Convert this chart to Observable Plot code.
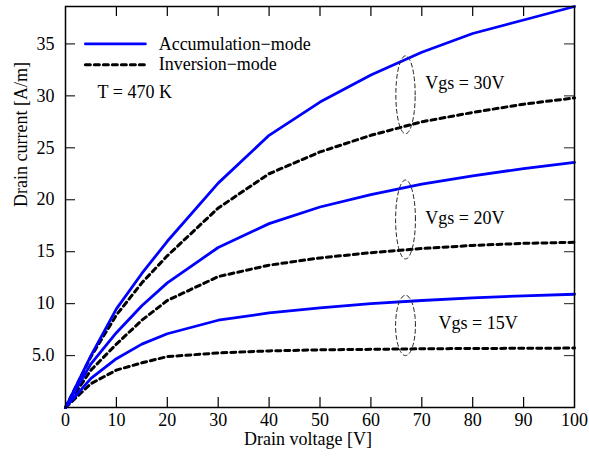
<!DOCTYPE html>
<html><head><meta charset="utf-8">
<script src="https://cdn.jsdelivr.net/npm/d3@7"></script>
<script src="https://cdn.jsdelivr.net/npm/@observablehq/plot@0.6"></script>
<style>body{margin:0;background:#fff} svg{display:block}</style>
</head><body><div id="chart"></div>
<script>
// ---- data ----
const voltage = [0, 5, 10, 15, 20, 30, 40, 50, 60, 70, 80, 90, 100];
const acc30 = [0, 5.0, 9.5, 12.9, 16.0, 21.6, 26.2, 29.4, 32.0, 34.2, 36.0, 37.3, 38.6];
const inv30 = [0, 4.9, 8.9, 12.0, 14.6, 19.2, 22.5, 24.6, 26.2, 27.5, 28.4, 29.2, 29.8];
const acc20 = [0, 4.2, 7.2, 9.8, 12.0, 15.4, 17.7, 19.3, 20.5, 21.5, 22.3, 23.0, 23.6];
const inv20 = [0, 3.6, 6.1, 8.4, 10.3, 12.6, 13.7, 14.4, 14.9, 15.3, 15.6, 15.8, 15.9];
const acc15 = [0, 2.8, 4.7, 6.1, 7.1, 8.4, 9.1, 9.6, 10.0, 10.3, 10.55, 10.75, 10.9];
const inv15 = [0, 2.3, 3.6, 4.3, 4.9, 5.25, 5.45, 5.55, 5.6, 5.65, 5.68, 5.7, 5.72];

const xTicks = [0, 10, 20, 30, 40, 50, 60, 70, 80, 90, 100];
const xInnerTicks = [10, 20, 30, 40, 50, 60, 70, 80, 90];
const yTicks = [5, 10, 15, 20, 25, 30, 35];
const yTickLabels = ["5.0", "10", "15", "20", "25", "30", "35"];

const seriesNames = ["Accumulation−mode", "Inversion−mode"];
const vgsLabels = ["Vgs = 30V", "Vgs = 20V", "Vgs = 15V"];
// label anchor positions (data units)
const vgsLabelX = [70.7, 70.7, 73.3];
const vgsLabelY = [31.2, 18.2, 8.1];
// ellipse annotations (data units): centre and radii
const ellCx = [66.8, 66.8, 66.8];
const ellCy = [30.1, 18.1, 7.9];
const ellRx = [1.9, 1.95, 1.95];
const ellRy = [3.75, 3.8, 2.9];
const tempLabel = "T = 470 K";

// ---- build tables ----
function rows(values, vgs) { return voltage.map((v, i) => ({v, i: values[i], vgs})); }
const accRows = [...rows(acc30, 30), ...rows(acc20, 20), ...rows(acc15, 15)];
const invRows = [...rows(inv30, 30), ...rows(inv20, 20), ...rows(inv15, 15)];

const ellRows = [];
ellCx.forEach((cx, k) => {
  for (let j = 0; j <= 72; j++) {
    const t = (j / 72) * 2 * Math.PI;
    ellRows.push({k, x: cx + ellRx[k] * Math.cos(t), y: ellCy[k] + ellRy[k] * Math.sin(t)});
  }
});
const vgsRows = vgsLabels.map((t, k) => ({t, x: vgsLabelX[k], y: vgsLabelY[k]}));

// legend layout (data units)
const legX1 = 3.9, legX2 = 15.7, legTextX = 18.3, legY = [35.0, 33.0], tempX = 6.3, tempY = 30.3;

const W = 589, H = 456, mL = 65, mR = 15, mT = 6, mB = 49;
const innerW = W - mL - mR, innerH = H - mT - mB, tick = 10;
const font = "'Liberation Serif', 'Times New Roman', serif";

const chart = Plot.plot({
  width: W, height: H,
  marginLeft: mL, marginRight: mR, marginTop: mT, marginBottom: mB,
  style: {fontFamily: font, fontSize: "18px", color: "black", background: "white"},
  x: {domain: [0, 100]},
  y: {domain: [0, 38.6]},
  marks: [
    Plot.axisX(xTicks, {tickSize: 0, tickPadding: 6, label: null, fontSize: 18}),
    Plot.axisY(yTicks, {tickSize: 0, tickPadding: 11, label: null, fontSize: 18,
      tickFormat: d => yTickLabels[yTicks.indexOf(d)]}),
    // inward ticks
    Plot.tickX(xInnerTicks, {x: d => d, insetTop: innerH - tick, stroke: "black", strokeWidth: 1.2}),
    Plot.tickX(xInnerTicks, {x: d => d, insetBottom: innerH - tick, stroke: "black", strokeWidth: 1.2}),
    Plot.tickY(yTicks, {y: d => d, insetRight: innerW - tick, stroke: "#222", strokeWidth: 1.2}),
    Plot.tickY(yTicks, {y: d => d, insetLeft: innerW - tick, stroke: "#444", strokeWidth: 1.2}),
    // data
    Plot.line(invRows, {x: "v", y: "i", z: "vgs", stroke: "black", strokeWidth: 3, strokeDasharray: "5,4"}),
    Plot.line(accRows, {x: "v", y: "i", z: "vgs", stroke: "#0000ff", strokeWidth: 2.8}),
    // ellipses
    Plot.line(ellRows, {x: "x", y: "y", z: "k", stroke: "#222", strokeWidth: 1, strokeDasharray: "4,3"}),
    Plot.text(vgsRows, {x: "x", y: "y", text: "t", textAnchor: "start", fontSize: 18, fill: "black"}),
    // legend
    Plot.line([{x: legX1, y: legY[0]}, {x: legX2, y: legY[0]}], {x: "x", y: "y", stroke: "#0000ff", strokeWidth: 2.8}),
    Plot.line([{x: legX1, y: legY[1]}, {x: legX2, y: legY[1]}], {x: "x", y: "y", stroke: "black", strokeWidth: 3, strokeDasharray: "5,4"}),
    Plot.text(seriesNames.map((t, k) => ({t, y: legY[k]})), {x: () => legTextX, y: "y", text: "t", textAnchor: "start", fontSize: 18, fill: "black"}),
    Plot.text([tempLabel], {x: () => tempX, y: () => tempY, text: d => d, textAnchor: "start", fontSize: 18, fill: "black"}),
    // axis titles
    Plot.text(["Drain voltage [V]"], {frameAnchor: "bottom", dy: 37, dx: -12, text: d => d, fontSize: 18, fill: "black"}),
    Plot.text(["Drain current [A/m]"], {frameAnchor: "left", rotate: -90, dx: -44, text: d => d, fontSize: 18, fill: "black"}),
    Plot.frame({stroke: "black", strokeWidth: 1.5})
  ]
});
document.getElementById("chart").append(chart);
</script>
</body></html>
